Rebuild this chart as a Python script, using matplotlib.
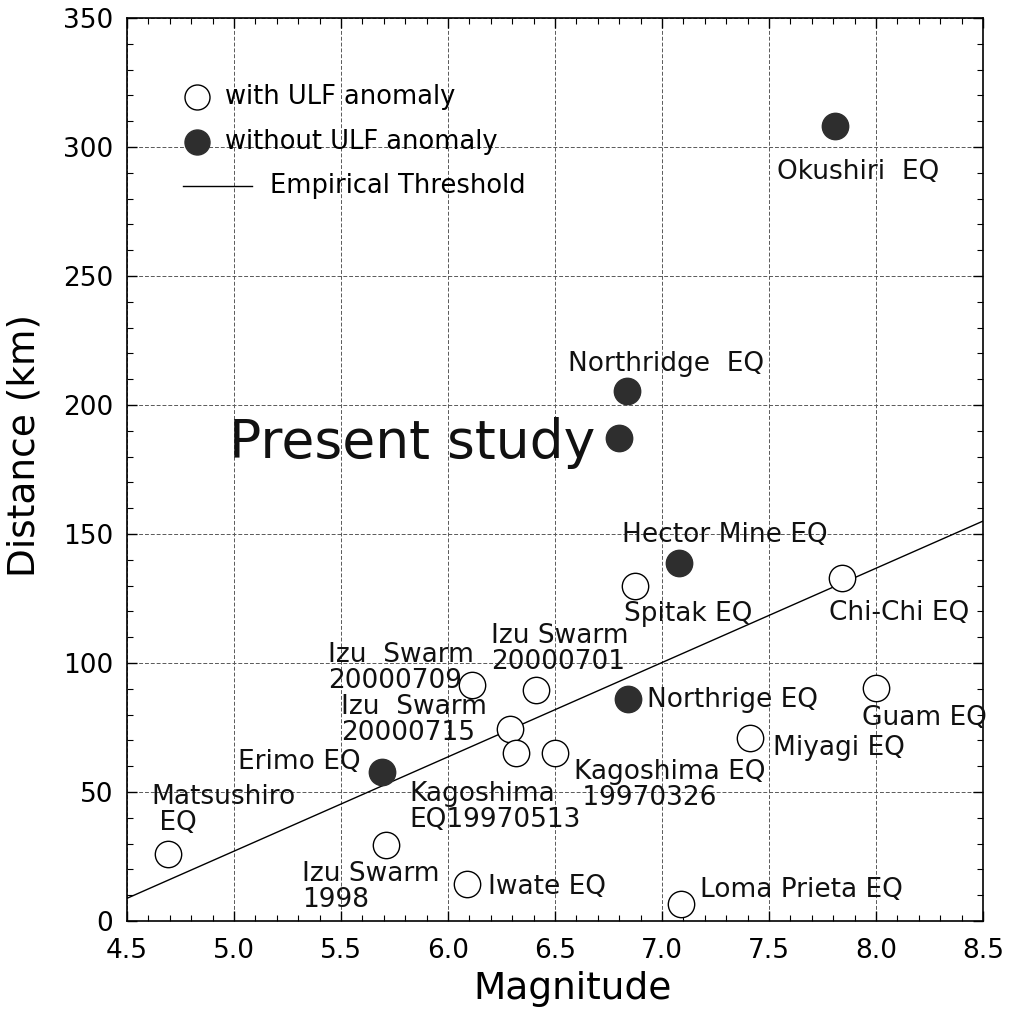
import numpy as np
import matplotlib.pyplot as plt

# Events with ULF anomaly (open circles)
with_mag = [4.69, 5.71, 6.09, 7.09, 6.11, 6.41, 6.29, 6.32, 6.50, 7.41, 6.875, 7.84, 8.00]
with_dist = [25.8, 29.3, 14.4, 6.6, 91.3, 89.4, 74.5, 65.1, 65.1, 71.0, 129.8, 133.0, 90.5]

# Events without ULF anomaly (filled circles)
without_mag = [5.69, 6.84, 7.08, 6.835, 6.80, 7.81]
without_dist = [57.8, 86.0, 138.8, 205.5, 187.4, 308.0]

# Empirical threshold line
thr_mag = [4.5, 8.5]
thr_dist = [8.8, 155.0]

# Labels: text, magnitude, distance (left-aligned, vertically centred)
labels = [
    ("Okushiri  EQ", 7.537, 290.3),
    ("Northridge  EQ", 6.561, 216.0),
    ("Hector Mine EQ", 6.813, 149.6),
    ("Spitak EQ", 6.822, 119.0),
    ("Chi-Chi EQ", 7.78, 119.4),
    ("Izu Swarm\n20000701", 6.20, 105.4),
    ("Izu  Swarm\n20000709", 5.439, 97.9),
    ("Izu  Swarm\n20000715", 5.50, 77.9),
    ("Erimo EQ", 5.019, 61.6),
    ("Matsushiro\n EQ", 4.612, 43.0),
    ("Kagoshima\nEQ19970513", 5.818, 44.0),
    ("Kagoshima EQ\n 19970326", 6.589, 52.7),
    ("Northrige EQ", 6.93, 85.7),
    ("Miyagi EQ", 7.519, 67.0),
    ("Guam EQ", 7.935, 78.7),
    ("Izu Swarm\n1998", 5.318, 13.0),
    ("Iwate EQ", 6.187, 13.2),
    ("Loma Prieta EQ", 7.18, 12.0),
]

fig = plt.figure(figsize=(10.12, 10.11), dpi=100)
ax = fig.add_axes([0.1255, 0.089, 0.8458, 0.8932])

ax.grid(True, which='major', linestyle=(0, (4, 2)), linewidth=0.7, color='0.35')
ax.plot(thr_mag, thr_dist, color='black', linewidth=1.0, zorder=2)
ax.plot(with_mag, with_dist, 'o', markersize=19, markerfacecolor='white',
        markeredgecolor='black', markeredgewidth=1.0, zorder=3)
ax.plot(without_mag, without_dist, 'o', markersize=19, markerfacecolor='#2e2e2e',
        markeredgecolor='#2e2e2e', zorder=3)

for txt, m, d in labels:
    ax.text(m, d, txt, fontsize=19, ha='left', va='center', linespacing=1.0, color='#111111', zorder=4)

ax.text(4.977, 179.5, "Present study", fontsize=38.5, ha='left', va='baseline', color='#111111')

# legend drawn by hand (texts are not aligned in the original)
ax.plot([0.0818], [0.9125], 'o', transform=ax.transAxes, markersize=18,
        markerfacecolor='white', markeredgecolor='black', markeredgewidth=1.0, clip_on=False)
ax.plot([0.0818], [0.8627], 'o', transform=ax.transAxes, markersize=18,
        markerfacecolor='#2e2e2e', markeredgecolor='#2e2e2e', clip_on=False)
ax.plot([0.0654, 0.146], [0.814, 0.814], transform=ax.transAxes, color='black', linewidth=1.0)
ax.text(0.1145, 0.9125, "with ULF anomaly", transform=ax.transAxes, fontsize=18.5, va='center')
ax.text(0.1145, 0.8627, "without ULF anomaly", transform=ax.transAxes, fontsize=18.5, va='center')
ax.text(0.167, 0.814, "Empirical Threshold", transform=ax.transAxes, fontsize=18.5, va='center')

ax.set_xlim(4.5, 8.5)
ax.set_ylim(0, 350)
ax.set_xticks(np.arange(4.5, 8.51, 0.5))
ax.set_xticks(np.arange(4.5, 8.51, 0.1), minor=True)
ax.set_yticks(np.arange(0, 351, 50))
ax.set_yticks(np.arange(0, 351, 10), minor=True)
ax.xaxis.set_major_formatter(plt.FormatStrFormatter('%.1f'))
ax.tick_params(which='both', direction='in', top=True, right=True, labelsize=19)
ax.tick_params(which='major', length=7, width=1.0)
ax.tick_params(which='minor', length=4, width=0.8)
ax.tick_params(axis='x', pad=12)
ax.tick_params(axis='y', pad=10)
for s in ax.spines.values():
    s.set_linewidth(1.2)

ax.set_xlabel("Magnitude", fontsize=27)
ax.set_ylabel("Distance (km)", fontsize=27)
ax.xaxis.set_label_coords(0.52, -0.055)
ax.yaxis.set_label_coords(-0.099, 0.527)

fig.savefig("out.png", dpi=100)
